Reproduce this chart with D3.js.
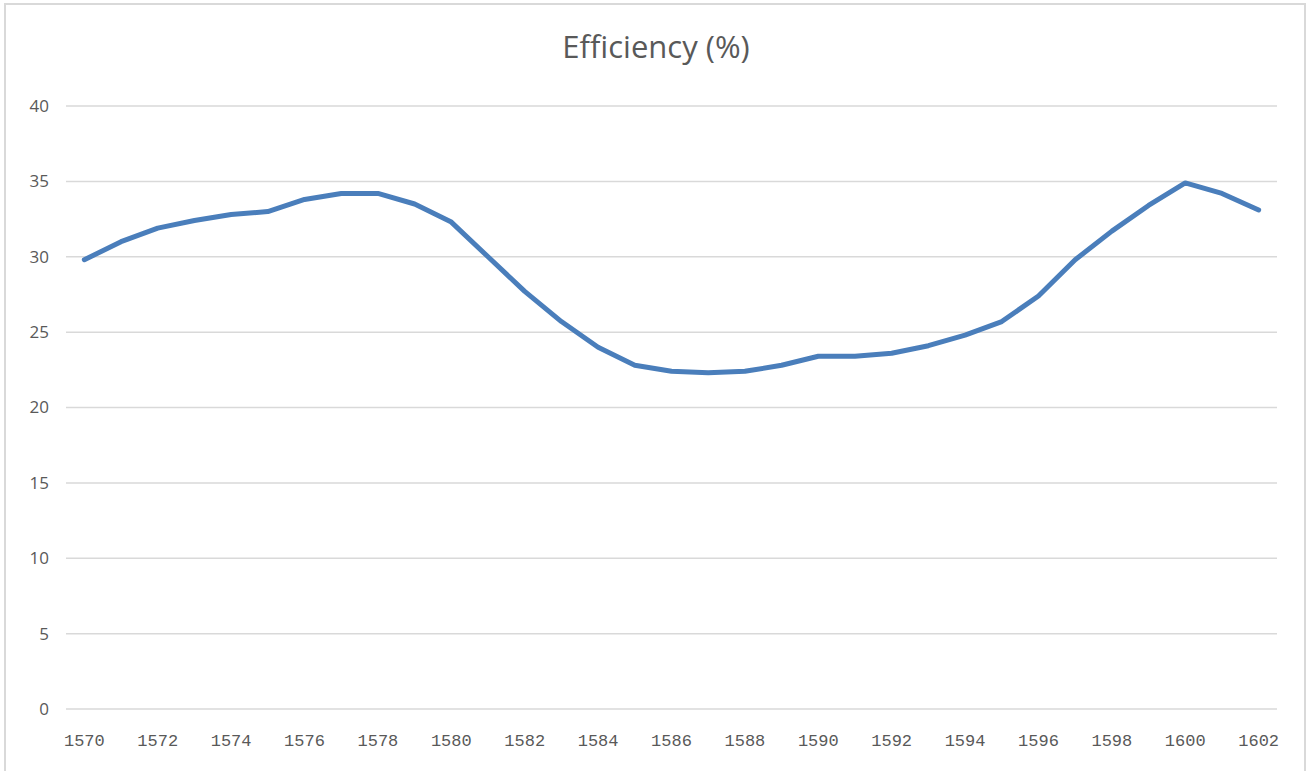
<!DOCTYPE html>
<html>
<head>
<meta charset="utf-8">
<script src="https://cdn.jsdelivr.net/npm/d3@7"></script>
<style>
  body { margin: 0; background: #fff; }
  svg { display: block; }
  .ylab { font-family: "Open Sans", sans-serif; font-size: 17px; fill: #595959; }
  .xlab { font-family: "Liberation Mono", monospace; font-size: 17px; fill: #595959; }
  .title { font-family: "Open Sans", sans-serif; font-size: 31px; fill: #595959; }
</style>
</head>
<body>
<script>
// data
const years = d3.range(1570, 1603);
const efficiency = [
  29.8, 31.0, 31.9, 32.4, 32.8, 33.0, 33.8, 34.2, 34.2, 33.5,
  32.3, 30.0, 27.7, 25.7, 24.0, 22.8, 22.4, 22.3, 22.4, 22.8,
  23.4, 23.4, 23.6, 24.1, 24.8, 25.7, 27.4, 29.8, 31.7, 33.4,
  34.9, 34.2, 33.1
];
const yTicks = [0, 5, 10, 15, 20, 25, 30, 35, 40];
const xTickLabels = years.filter(y => (y - 1570) % 2 === 0);
const title = "Efficiency (%)";

const W = 1309, H = 771,
      plotLeft = 66, plotRight = 1277, plotTop = 106, plotBottom = 709;

const svg = d3.select("body").append("svg")
  .attr("width", W)
  .attr("height", H);

// chart frame
svg.append("rect")
  .attr("x", 5).attr("y", 4)
  .attr("width", 1300).attr("height", 800)
  .attr("fill", "#fff")
  .attr("stroke", "#d9d9d9")
  .attr("stroke-width", 2);

const x = d3.scaleBand(years, [plotLeft, plotRight]);
const xc = d => x(d) + x.bandwidth() / 2;
const y = d3.scaleLinear([0, 40], [plotBottom, plotTop]);

// gridlines + y labels
const gy = svg.append("g");
gy.selectAll("line").data(yTicks).join("line")
  .attr("x1", plotLeft).attr("x2", plotRight)
  .attr("y1", d => y(d)).attr("y2", d => y(d))
  .attr("stroke", "#d9d9d9")
  .attr("stroke-width", 1.5);
gy.selectAll("text").data(yTicks).join("text")
  .attr("class", "ylab")
  .attr("x", 49)
  .attr("y", d => y(d))
  .attr("dy", "0.35em")
  .attr("text-anchor", "end")
  .text(d => d);

// x labels
svg.append("g").selectAll("text").data(xTickLabels).join("text")
  .attr("class", "xlab")
  .attr("x", d => xc(d))
  .attr("y", 746)
  .attr("text-anchor", "middle")
  .text(d => d);

// the line
const line = d3.line()
  .x((d, i) => xc(years[i]))
  .y(d => y(d));

svg.append("path")
  .datum(efficiency)
  .attr("d", line)
  .attr("fill", "none")
  .attr("stroke", "#4a7ebb")
  .attr("stroke-width", 5)
  .attr("stroke-linejoin", "round")
  .attr("stroke-linecap", "round");

svg.append("text")
  .attr("class", "title")
  .attr("x", 656)
  .attr("y", 58)
  .attr("text-anchor", "middle")
  .text(title);
</script>
</body>
</html>
